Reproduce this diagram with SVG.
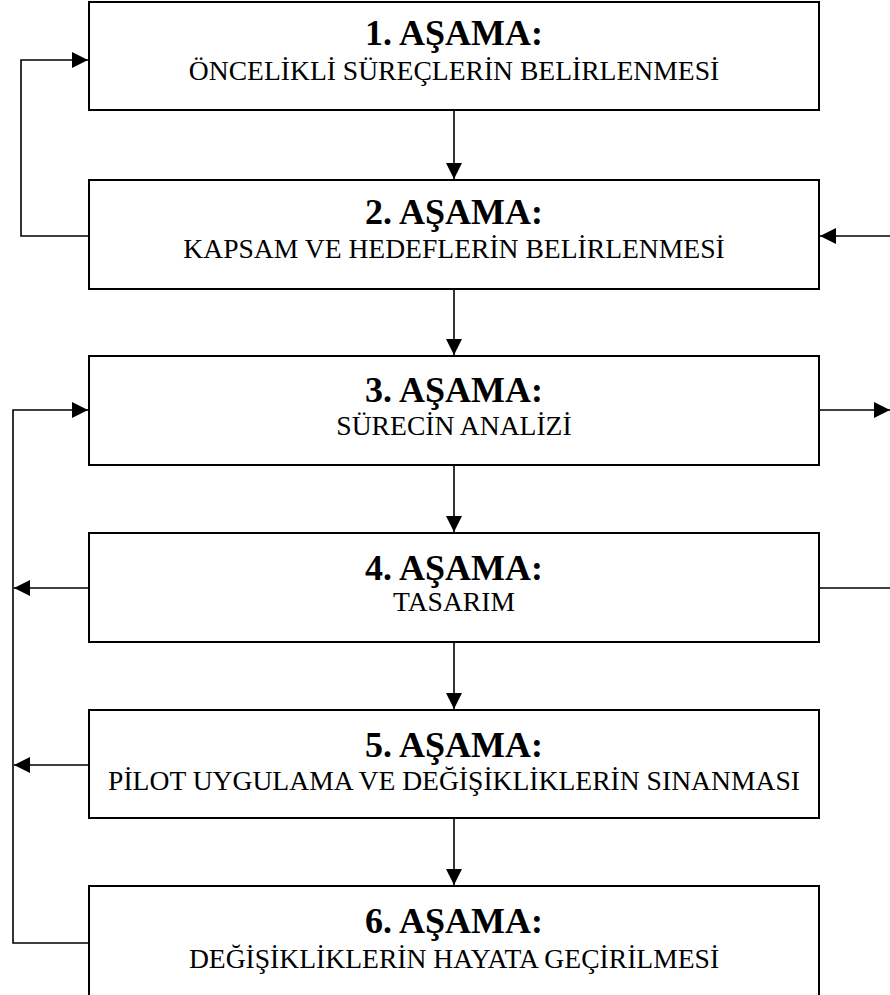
<svg xmlns="http://www.w3.org/2000/svg" width="890" height="995" viewBox="0 0 890 995">
  <style>
    .box { fill: #ffffff; stroke: #000000; stroke-width: 2; }
    .line { fill: none; stroke: #000000; stroke-width: 1.6; }
    .title { font-family: "Liberation Serif", "Times New Roman", serif; font-size: 36px; font-weight: bold; text-anchor: middle; fill: #000000; }
    .sub { font-family: "Liberation Serif", "Times New Roman", serif; font-size: 27.6px; text-anchor: middle; fill: #000000; }
  </style>
  <defs>
    <marker id="arrow" viewBox="0 0 10 10" refX="10" refY="5" markerWidth="16" markerHeight="16" markerUnits="userSpaceOnUse" orient="auto">
      <path d="M0,0 L10,5 L0,10 z" fill="#000000"/>
    </marker>
  </defs>
  <rect width="890" height="995" fill="#ffffff"/>

  <g id="connectors">
    <!-- main downward flow -->
    <line class="line" x1="454" y1="110" x2="454" y2="179" marker-end="url(#arrow)"/>
    <line class="line" x1="454" y1="289" x2="454" y2="355" marker-end="url(#arrow)"/>
    <line class="line" x1="454" y1="465" x2="454" y2="532" marker-end="url(#arrow)"/>
    <line class="line" x1="454" y1="642" x2="454" y2="709" marker-end="url(#arrow)"/>
    <line class="line" x1="454" y1="818" x2="454" y2="885" marker-end="url(#arrow)"/>
    <!-- feedback from stage 2 to stage 1 -->
    <polyline class="line" points="89,236 21,236 21,60 88,60" marker-end="url(#arrow)"/>
    <!-- feedback loop on the left into stage 3 -->
    <polyline class="line" points="89,943 13,943 13,410 88,410" marker-end="url(#arrow)"/>
    <line class="line" x1="89" y1="588" x2="14" y2="588" marker-end="url(#arrow)"/>
    <line class="line" x1="89" y1="765" x2="14" y2="765" marker-end="url(#arrow)"/>
    <!-- right side links -->
    <line class="line" x1="890" y1="236" x2="820" y2="236" marker-end="url(#arrow)"/>
    <line class="line" x1="819" y1="410" x2="890" y2="410" marker-end="url(#arrow)"/>
    <line class="line" x1="819" y1="588" x2="890" y2="588"/>
  </g>

  <g id="stage1">
    <rect class="box" x="89" y="2" width="730" height="108"/>
    <text class="title" x="454" y="45">1. AŞAMA:</text>
    <text class="sub" x="454" y="80">ÖNCELİKLİ SÜREÇLERİN BELİRLENMESİ</text>
  </g>
  <g id="stage2">
    <rect class="box" x="89" y="180" width="730" height="109"/>
    <text class="title" x="454" y="224">2. AŞAMA:</text>
    <text class="sub" x="454" y="258">KAPSAM VE HEDEFLERİN BELİRLENMESİ</text>
  </g>
  <g id="stage3">
    <rect class="box" x="89" y="356" width="730" height="109"/>
    <text class="title" x="454" y="402">3. AŞAMA:</text>
    <text class="sub" x="454" y="435">SÜRECİN ANALİZİ</text>
  </g>
  <g id="stage4">
    <rect class="box" x="89" y="533" width="730" height="109"/>
    <text class="title" x="454" y="580">4. AŞAMA:</text>
    <text class="sub" x="454" y="611">TASARIM</text>
  </g>
  <g id="stage5">
    <rect class="box" x="89" y="710" width="730" height="108"/>
    <text class="title" x="454" y="757">5. AŞAMA:</text>
    <text class="sub" x="454" y="790">PİLOT UYGULAMA VE DEĞİŞİKLİKLERİN SINANMASI</text>
  </g>
  <g id="stage6">
    <rect class="box" x="89" y="886" width="730" height="120"/>
    <text class="title" x="454" y="933">6. AŞAMA:</text>
    <text class="sub" x="454" y="968">DEĞİŞİKLİKLERİN HAYATA GEÇİRİLMESİ</text>
  </g>
</svg>
